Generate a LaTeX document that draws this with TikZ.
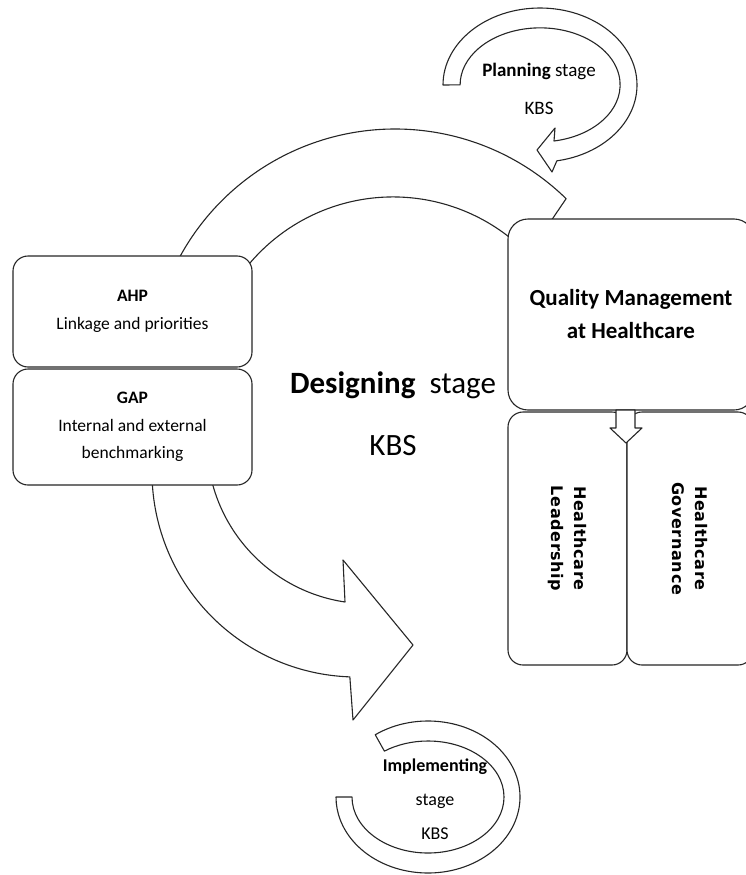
\documentclass[tikz,border=0pt]{standalone}
\usepackage{fontspec}
\setmainfont{Carlito}
\newfontfamily\sidefont[LetterSpace=4]{DejaVu Sans}

\begin{document}
\begin{tikzpicture}[x=1pt, y=-1pt, line width=1.1pt, line join=round,
    band/.style={draw=black!85, fill=white},
    box/.style={draw=black!85, fill=white, rounded corners=15, align=center, inner sep=0pt},
    stagetext/.style={align=center, inner sep=0pt}]
  \useasboundingbox (0,0) rectangle (745,875);

  % curved arrows, drawn first so the boxes hide their ends
  \draw[band] (540,85) ++(180:97 and 77)
    arc[start angle=180, end angle=440, x radius=97, y radius=77]
    -- (552,172) -- (537,150) -- (555,128) -- (554,141)
    arc[start angle=440, end angle=180, x radius=80, y radius=57] -- cycle;
  \draw[band] (395,374) ++(-160:245)
    arc[start angle=-160, end angle=-45.7, radius=245]
    -- (553,218) -- (538,239) -- (526,252)
    arc[start angle=-45, end angle=-160, radius=188] -- cycle;
  \draw[band] (357,472) ++(185:205)
    arc[start angle=185, end angle=92, radius=205]
    -- (353,720) -- (413,645) -- (343,560) -- (345,602)
    arc[start angle=98.5, end angle=175, radius=162] -- cycle;
  \draw[band] (428,797) ++(235:92 and 76)
    arc[start angle=235, end angle=540, x radius=92, y radius=76] -- ++(16,0)
    arc[start angle=540, end angle=235, x radius=76, y radius=56] -- cycle;

  % boxes
  \node[box, minimum width=239, minimum height=111,
    font=\fontsize{17.5}{27.5}\selectfont] (ahp) at (132.5,311.5)
    {\textbf{AHP}\\Linkage and priorities};
  \node[box, minimum width=239, minimum height=116,
    font=\fontsize{17.5}{27.5}\selectfont] (gap) at (132.5,427)
    {\textbf{GAP}\\Internal and external\\benchmarking};
  \node[box, rounded corners=20, minimum width=246, minimum height=191,
    font=\fontsize{23}{33}\selectfont\bfseries] (qm) at (631,314.5)
    {Quality Management\\at Healthcare};
  \node[box, rotate=-90, minimum width=253, minimum height=119,
    font=\sidefont\fontsize{16}{23}\selectfont\bfseries] (lead) at (567.5,538.5)
    {Healthcare\\Leadership};
  \node[box, rotate=-90, minimum width=253, minimum height=126,
    font=\sidefont\fontsize{16}{23}\selectfont\bfseries] (gov) at (690,538.5)
    {Healthcare\\Governance};

  % block arrow from the top box down to the two below
  \draw[band] (616,410) -- (616,428) -- (610,428) -- (626,443)
    -- (642,428) -- (635,428) -- (635,410) -- cycle;

  % stage labels
  \node[stagetext, font=\fontsize{19}{38}\selectfont] (plan) at (539,89)
    {\textbf{Planning} stage\\KBS};
  \node[stagetext, font=\fontsize{31}{62}\selectfont] (design) at (393,414)
    {\textbf{Designing}\ \ stage\\KBS};
  \node[stagetext, font=\fontsize{18}{34}\selectfont] (impl) at (435,799)
    {\textbf{Implementing}\\stage\\KBS};
\end{tikzpicture}
\end{document}
